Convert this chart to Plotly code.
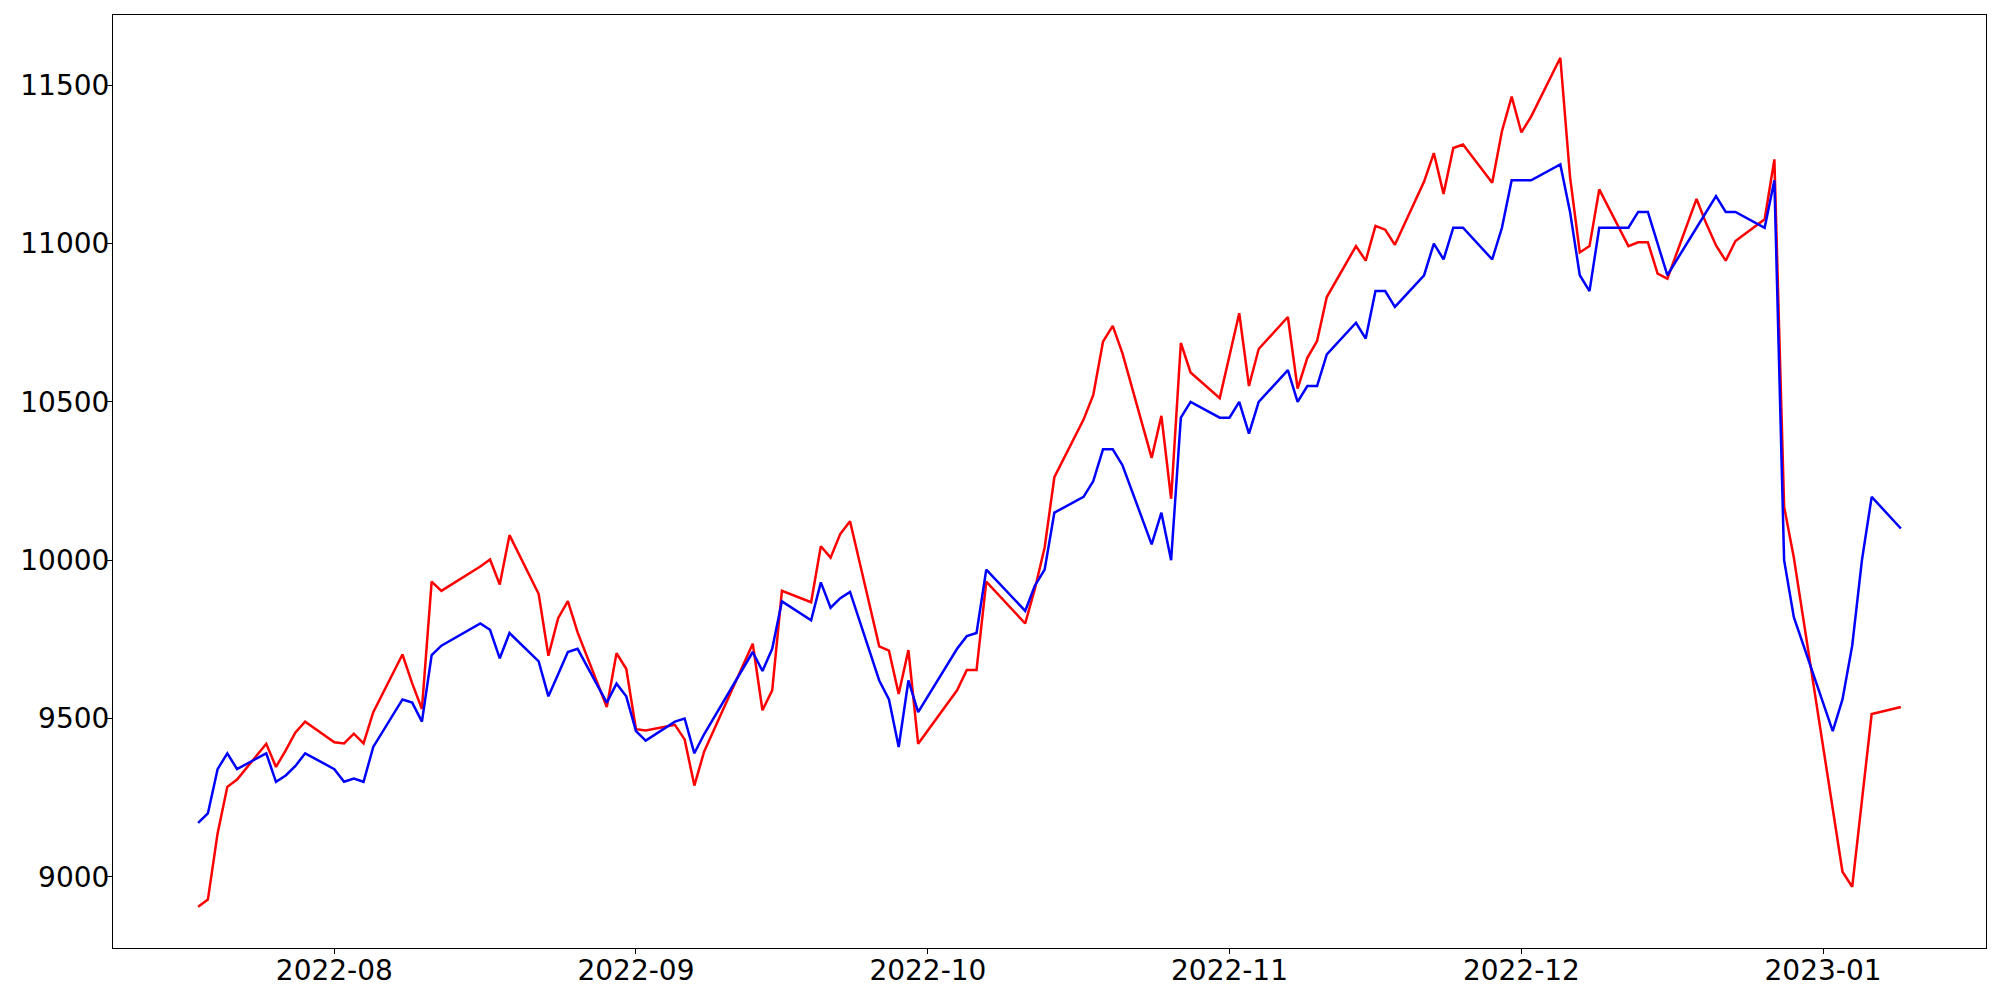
import plotly.graph_objects as go
import pandas as pd

dates = (
    ["2022-07-%02d" % d for d in [18, 19, 20, 21, 22, 25, 26, 27, 28, 29]]
    + ["2022-08-%02d" % d for d in [1, 2, 3, 4, 5, 8, 9, 10, 11, 12, 16, 17, 18, 19, 22, 23, 24, 25, 26, 29, 30, 31]]
    + ["2022-09-%02d" % d for d in [1, 2, 5, 6, 7, 8, 13, 14, 15, 16, 19, 20, 21, 22, 23, 26, 27, 28, 29, 30]]
    + ["2022-10-%02d" % d for d in [4, 5, 6, 7, 11, 12, 13, 14, 17, 18, 19, 20, 21, 24, 25, 26, 27, 28, 31]]
    + ["2022-11-%02d" % d for d in [1, 2, 3, 4, 7, 8, 9, 10, 11, 14, 15, 16, 17, 18, 21, 22, 23, 24, 25, 28, 29, 30]]
    + ["2022-12-%02d" % d for d in [1, 2, 5, 6, 7, 8, 9, 12, 13, 14, 15, 16, 19, 20, 21, 22, 23, 26, 27, 28, 29]]
    + ["2023-01-%02d" % d for d in [2, 3, 4, 5, 6, 9]]
)

blue_values = [
    9170, 9200, 9340, 9390, 9340, 9390, 9300, 9320, 9350, 9390,
    9340, 9300, 9310, 9300, 9410, 9560, 9550, 9490, 9700, 9730, 9800, 9780, 9690, 9770, 9680, 9570, 9640, 9710, 9720, 9550, 9610, 9570,
    9460, 9430, 9490, 9500, 9390, 9450, 9710, 9650, 9720, 9870, 9810, 9930, 9850, 9880, 9900, 9620, 9560, 9410, 9620, 9520,
    9720, 9760, 9770, 9970, 9840, 9920, 9970, 10150, 10200, 10250, 10350, 10350, 10300, 10050, 10150, 10000, 10450, 10500, 10450,
    10450, 10500, 10400, 10500, 10600, 10500, 10550, 10550, 10650, 10750, 10700, 10850, 10850, 10800, 10900, 11000, 10950, 11050, 11050, 10950, 11050, 11200,
    11200, 11200, 11250, 11100, 10900, 10850, 11050, 11050, 11100, 11100, 11000, 10900, 11050, 11100, 11150, 11100, 11100, 11050, 11200, 10000, 9820,
    9460, 9560, 9730, 10000, 10200, 10100,
]

red_values = [
    8905, 8928, 9137, 9284, 9307, 9420, 9347, 9399, 9456, 9490,
    9425, 9421, 9452, 9421, 9520, 9702, 9611, 9530, 9932, 9903, 9980, 10002, 9923, 10079, 9893, 9698, 9817, 9871, 9772, 9536, 9706, 9657,
    9466, 9462, 9480, 9434, 9288, 9395, 9736, 9526, 9589, 9903, 9867, 10044, 10008, 10083, 10123, 9728, 9714, 9577, 9716, 9420,
    9589, 9653, 9653, 9932, 9800, 9910, 10040, 10262, 10444, 10522, 10690, 10740, 10653, 10323, 10456, 10194, 10686, 10593, 10512,
    10645, 10780, 10550, 10667, 10768, 10542, 10639, 10692, 10831, 10992, 10946, 11056, 11044, 10996, 11196, 11286, 11157, 11302, 11313, 11192, 11355, 11464,
    11351, 11401, 11587, 11210, 10972, 10992, 11171, 10992, 11004, 11004, 10905, 10889, 11141, 11063, 10994, 10946, 11008, 11077, 11266, 10169, 10008,
    9210, 9016, 8968, 9242, 9514, 9536,
]

y_tick_values = [9000, 9500, 10000, 10500, 11000, 11500]
y_tick_labels = [str(v) for v in y_tick_values]

x = pd.to_datetime(dates)
span = x.max() - x.min()
x_range = [x.min() - span * 0.05, x.max() + span * 0.05]

fig = go.Figure()
fig.add_trace(go.Scatter(x=x, y=red_values, mode="lines",
                         line=dict(color="#ff0000", width=2.5), showlegend=False))
fig.add_trace(go.Scatter(x=x, y=blue_values, mode="lines",
                         line=dict(color="#0000ff", width=2.5), showlegend=False))

axis_common = dict(showgrid=False, zeroline=False, showline=True, linecolor="black",
                   linewidth=1.1, mirror=True, ticks="outside", ticklen=5,
                   tickwidth=1.1, tickcolor="black", automargin=False)

# the page body adds an 8px offset, so the figure is sized to fit inside it
fig.update_layout(
    width=1984, height=984,
    margin=dict(l=105, r=6, t=7, b=44),
    paper_bgcolor="white", plot_bgcolor="white",
    font=dict(family="DejaVu Sans", size=28, color="black"),
    xaxis=dict(range=x_range, tickformat="%Y-%m", dtick="M1", tick0="2022-08-01",
               ticklabelstandoff=-8, **axis_common),
    yaxis=dict(range=[8775, 11722], tickvals=y_tick_values, ticktext=y_tick_labels,
               ticklabelstandoff=-8, **axis_common),
)

fig.write_html("out.html")
